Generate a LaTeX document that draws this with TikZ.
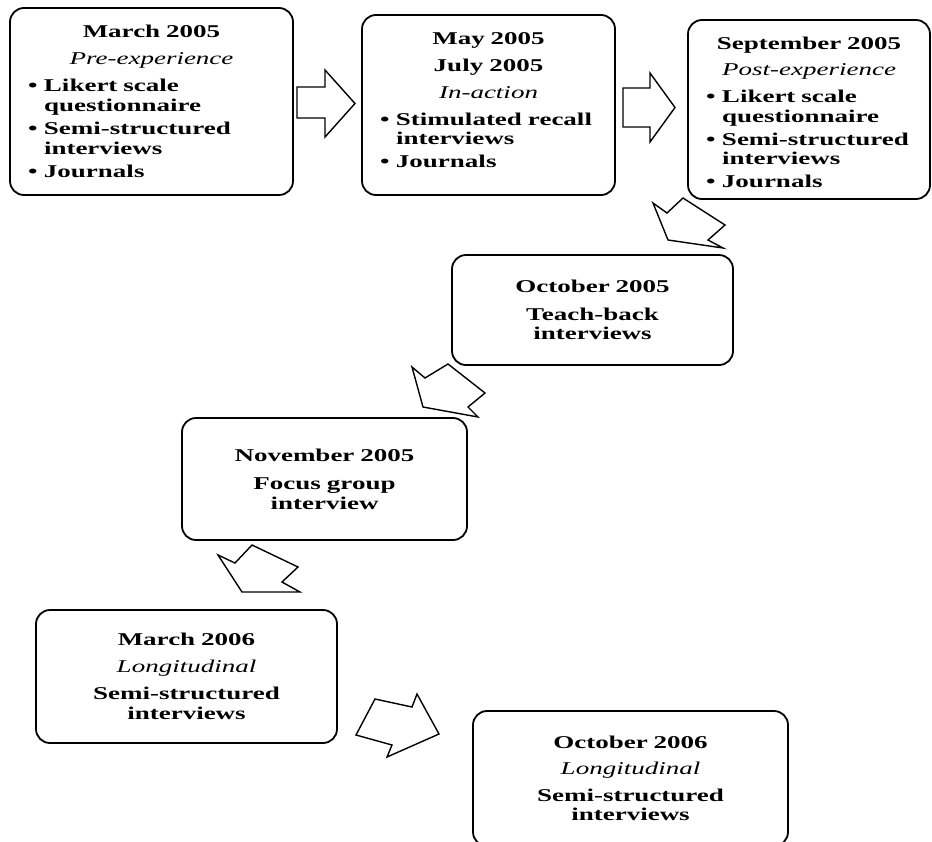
\documentclass[tikz,border=0pt]{standalone}
\usepackage{fontspec}
\setmainfont{Liberation Serif}[FakeStretch=1.5]
\tikzset{
    stage/.style={rectangle, draw, line width=1.8pt, rounded corners=14pt, text width=#1, inner xsep=18pt, inner ysep=4pt, align=center, font=\bfseries\fontsize{18}{19.5}\selectfont},
    bigarrow/.style={draw, line width=1.4pt, fill=white, line join=miter}
}
\newcommand{\phasename}[1]{{\mdseries\itshape #1}}
\newcommand{\bulitem}[1]{\makebox[\hsize][l]{\makebox[16pt][l]{\textbullet}#1}}
\newcommand{\bulcont}[1]{\makebox[\hsize][l]{\hspace*{16pt}#1}}

\begin{document}
\begin{tikzpicture}[x=1pt, y=-1pt]
    \clip (0,0) rectangle (932,841);

    % 2005 data collection
    \node [stage=247pt, minimum height=187pt] (mar05) at (151.5,101.5) {March 2005\\[7pt]
        \phasename{Pre-experience}\\[8pt]
        \bulitem{Likert scale}\\ \bulcont{questionnaire}\\[4pt]
        \bulitem{Semi-structured}\\ \bulcont{interviews}\\[4pt]
        \bulitem{Journals}};
    \node [stage=217pt, minimum height=180pt] (may05) at (488.5,105) {May 2005\\[7.5pt]
        July 2005\\[7.5pt]
        \phasename{In-action}\\[7.5pt]
        \bulitem{Stimulated recall}\\ \bulcont{interviews}\\[3pt]
        \bulitem{Journals}\\[-9.5pt]\mbox{}};
    \node [stage=206pt, minimum height=179pt] (sep05) at (809,109.5) {\mbox{}\\[-2pt]
        September 2005\\[7pt]
        \phasename{Post-experience}\\[7.5pt]
        \bulitem{Likert scale}\\ \bulcont{questionnaire}\\[3.5pt]
        \bulitem{Semi-structured}\\ \bulcont{interviews}\\[3pt]
        \bulitem{Journals}};
    \node [stage=245pt, minimum height=110pt] (oct05) at (592.5,310) {October 2005\\[8.5pt]
        Teach-back\\ interviews};
    \node [stage=249pt, minimum height=122pt] (nov05) at (324.5,479) {November 2005\\[9pt]
        Focus group\\ interview};

    % longitudinal follow-up
    \node [stage=265pt, minimum height=133pt] (mar06) at (186.5,676.5) {March 2006\\[7.5pt]
        \phasename{Longitudinal}\\[7.5pt]
        Semi-structured\\ interviews};
    \node [stage=279pt, minimum height=135pt] (oct06) at (630.5,778.5) {October 2006\\[6.5pt]
        \phasename{Longitudinal}\\[7.5pt]
        Semi-structured\\ interviews};

    % block arrows
    \draw [bigarrow] (297,87) -- (325,87) -- (325,70) -- (355,103.5) -- (325,137) -- (325,118) -- (297,118) -- cycle;
    \draw [bigarrow] (623,88) -- (650,88) -- (650,73) -- (675,107.5) -- (650,142) -- (650,127) -- (623,127) -- cycle;
    \draw [bigarrow] (668,240) -- (653,203) -- (667,213) -- (683,198) -- (725,225) -- (708,240) -- (723,248) -- cycle;
    \draw [bigarrow] (423,407) -- (412,367) -- (425,378) -- (448,364) -- (485,393) -- (468,407) -- (478,417) -- cycle;
    \draw [bigarrow] (242,592) -- (218,555) -- (235,563) -- (252,545) -- (298,567) -- (282,582) -- (300,592) -- cycle;
    \draw [bigarrow] (356,735) -- (375,699) -- (412,707) -- (417,694) -- (439,734) -- (387,757) -- (392,745) -- cycle;

\end{tikzpicture}
\end{document}
